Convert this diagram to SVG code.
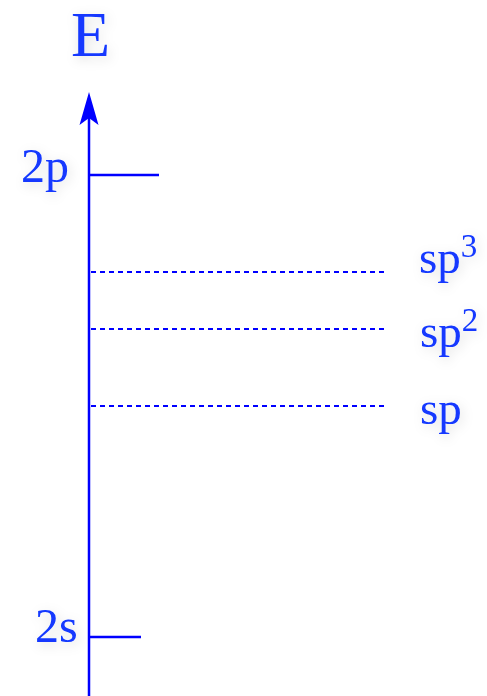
<svg xmlns="http://www.w3.org/2000/svg" width="487" height="696" viewBox="0 0 487 696">
<style>
.t{font-family:"Liberation Serif","Times New Roman",serif;fill:#1238ff;filter:url(#sh)}
.l{stroke:#0000ff;stroke-width:2.5;fill:none}
.d{stroke:#0000ff;stroke-width:2;stroke-dasharray:5 4;fill:none}
</style>
<defs>
<filter id="sh" x="-50%" y="-50%" width="200%" height="200%">
<feDropShadow dx="2" dy="3" stdDeviation="6" flood-color="#000" flood-opacity="0.14"/>
</filter>
</defs>
<g id="connectors">
<line class="l" x1="89" y1="696" x2="89" y2="112"/>
<path d="M89,92 L98.5,125 L89,118 L79.5,125 Z" fill="#0000ff"/>
<line class="l" x1="90" y1="175" x2="159" y2="175"/>
<line class="l" x1="90" y1="637" x2="141" y2="637"/>
<line class="d" x1="91" y1="272" x2="386" y2="272"/>
<line class="d" x1="91" y1="329" x2="386" y2="329"/>
<line class="d" x1="91" y1="406" x2="386" y2="406"/>
</g>
<g id="E"><text class="t" x="71" y="56" font-size="64">E</text></g>
<g id="n2p"><text class="t" x="21" y="182" font-size="48">2p</text></g>
<g id="n2s"><text class="t" x="35" y="642" font-size="48">2s</text></g>
<g id="sp3"><text class="t" x="419" y="273" font-size="47">sp<tspan font-size="33" dy="-16">3</tspan></text></g>
<g id="sp2"><text class="t" x="420" y="347" font-size="47">sp<tspan font-size="33" dy="-16">2</tspan></text></g>
<g id="sp"><text class="t" x="420" y="424" font-size="47">sp</text></g>
</svg>
